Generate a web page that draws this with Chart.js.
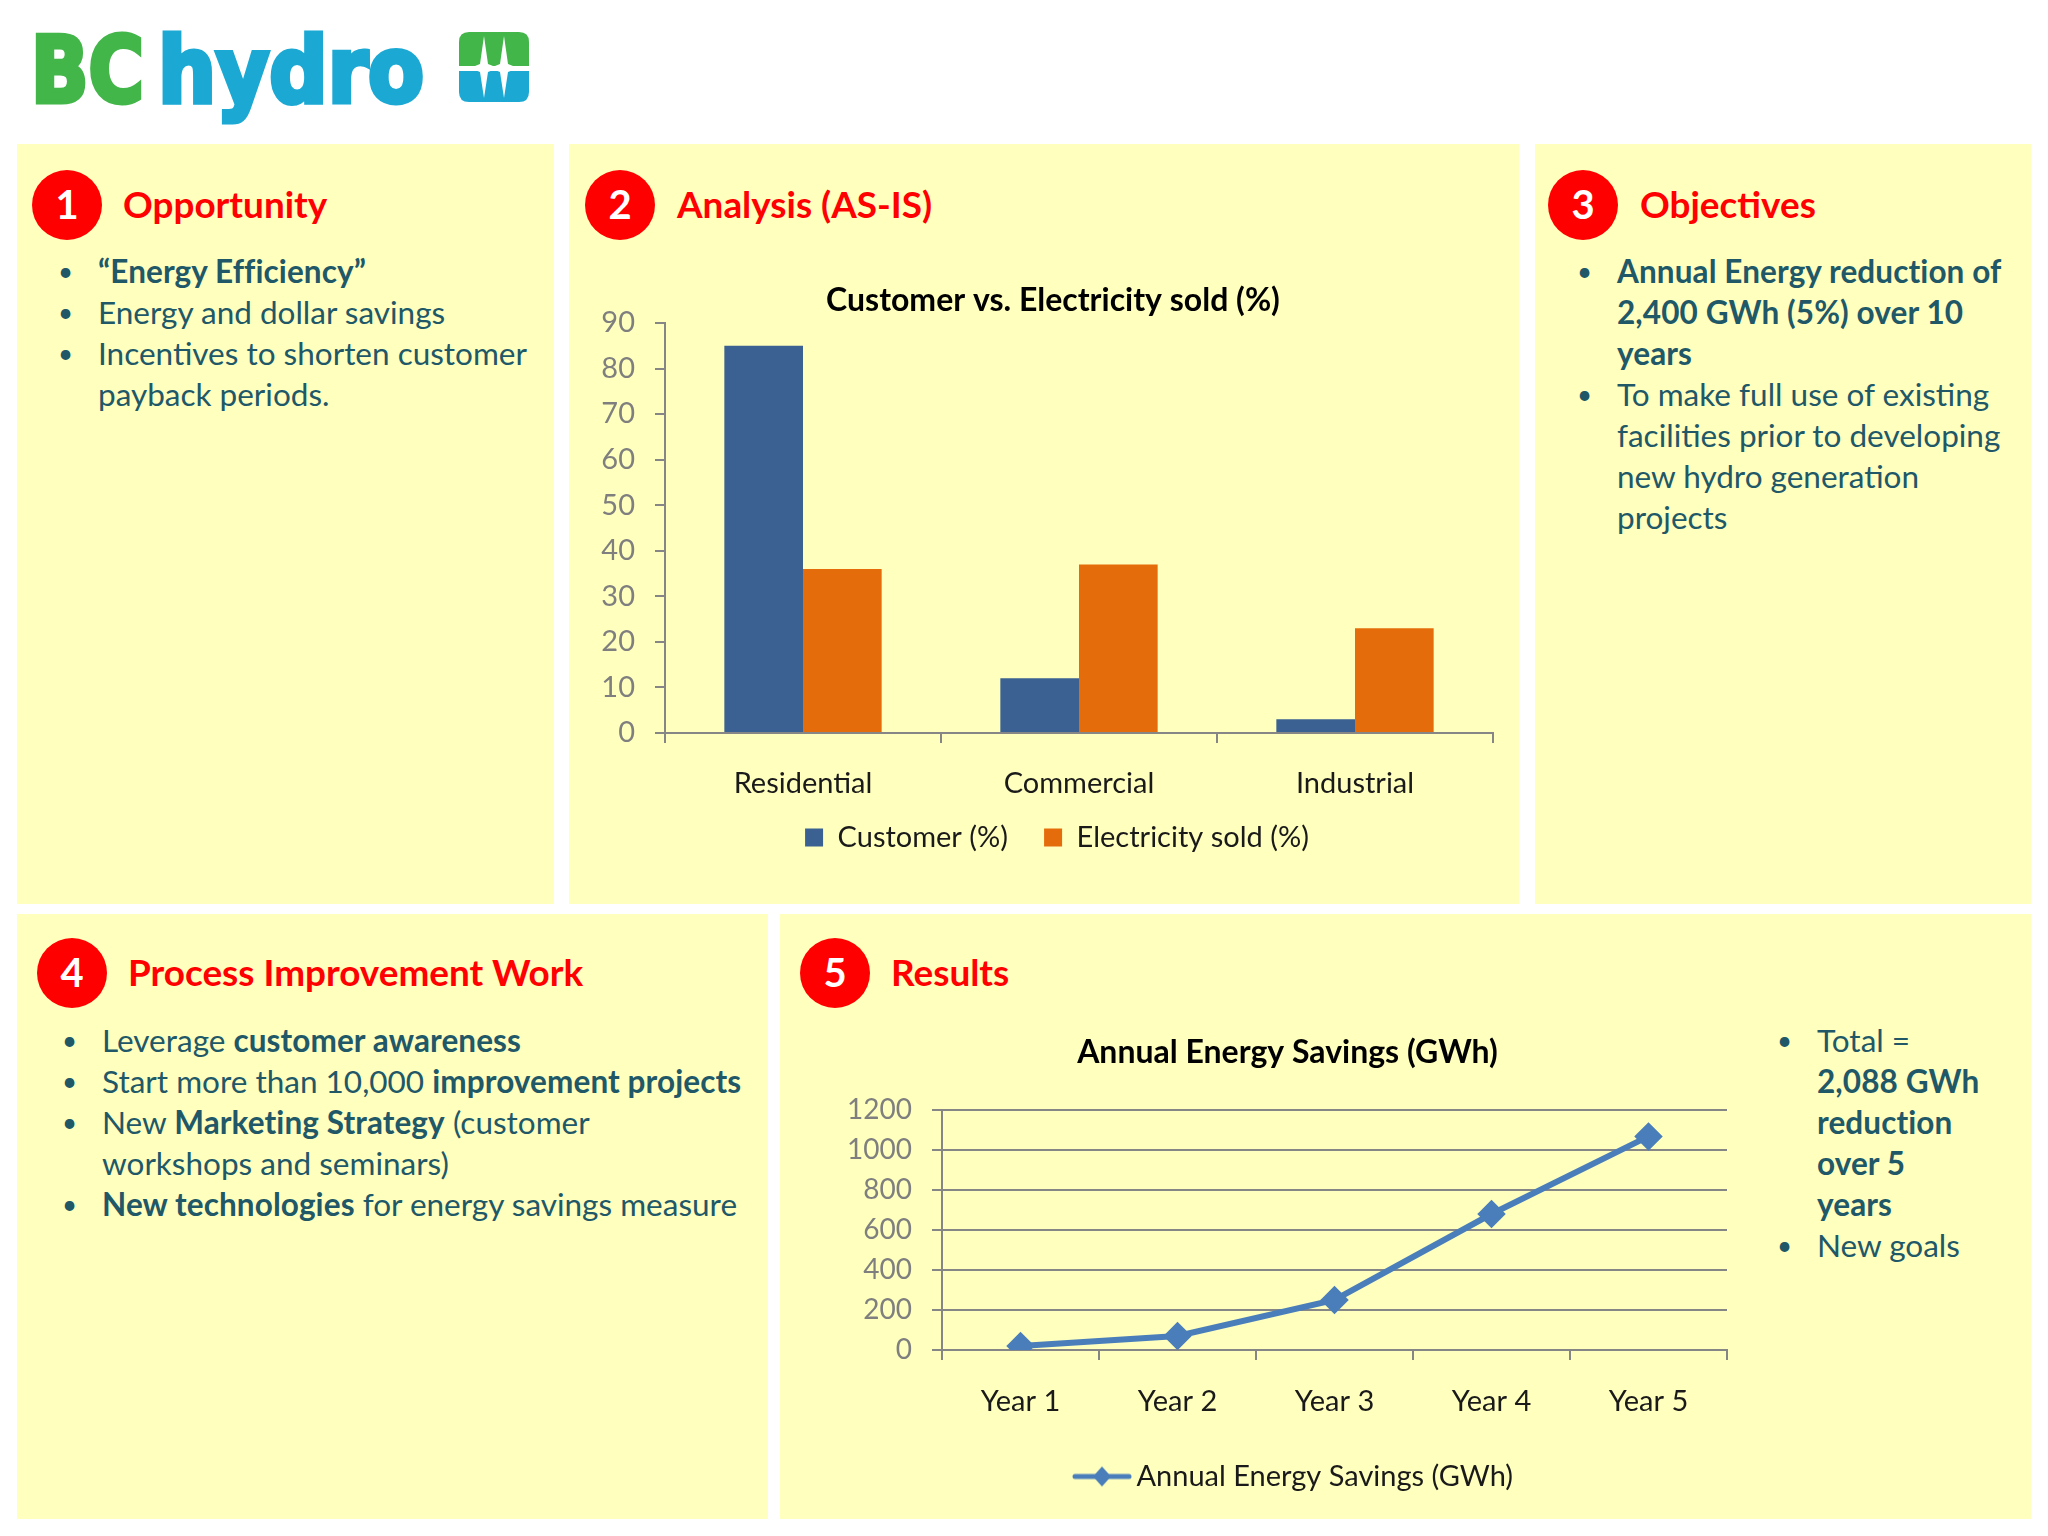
<!DOCTYPE html>
<html>
<head>
<meta charset="utf-8">
<title>BC Hydro</title>
<script src="https://cdn.jsdelivr.net/npm/chart.js@4/dist/chart.umd.min.js"></script>
<style>
  html, body { margin: 0; padding: 0; background: #fff; }
  body { width: 2048px; height: 1536px; position: relative; overflow: hidden; font-family: Lato, sans-serif; }
  .panel { position: absolute; background: #ffffbe; }
  .num { position: absolute; width: 70px; height: 70px; border-radius: 50%; background: #f00; color: #fff;
         font-weight: 700; font-size: 40px; line-height: 68px; text-align: center; }
  .head { position: absolute; color: #f00; font-weight: 700; font-size: 36.9px; line-height: 44px; white-space: nowrap; }
  ul { position: absolute; margin: 0; padding: 0; list-style: none; color: #215868; font-size: 31.5px; line-height: 41px; }
  li { position: relative; white-space: nowrap; }
  li::before { content: "•"; position: absolute; left: -40px; font-size: 26px; }
  b { letter-spacing: 0.1px; }
  canvas { position: absolute; }
</style>
</head>
<body>
<svg style="position:absolute;left:0;top:0" width="560" height="140">
  <text x="31" y="102" font-family="DejaVu Sans" font-weight="700" font-size="90" fill="#43b649" stroke="#43b649" stroke-width="5" textLength="113" lengthAdjust="spacingAndGlyphs">BC</text>
  <text x="158" y="102" font-family="DejaVu Sans" font-weight="700" font-size="90" fill="#1ba9d4" stroke="#1ba9d4" stroke-width="5" textLength="266" lengthAdjust="spacingAndGlyphs">hydro</text>
  <path d="M459 66V42q0-10 10-10h50q10 0 10 10v24z" fill="#43b649"/>
  <path d="M459 71v21q0 10 10 10h50q10 0 10-10V71z" fill="#1ba9d4"/>
  <path d="M484 36l4 28 10 4-10 4-4 26-4-26-10-4 10-4zM504 36l4 28 10 4-10 4-4 26-4-26-10-4 10-4z" fill="#fff"/>
</svg>

<div class="panel" style="left:17px;top:144px;width:537px;height:760px"></div>
<div class="panel" style="left:569px;top:144px;width:950px;height:760px"></div>
<div class="panel" style="left:1535px;top:144px;width:496px;height:760px"></div>
<div class="panel" style="left:17px;top:914px;width:751px;height:605px"></div>
<div class="panel" style="left:780px;top:914px;width:1251px;height:605px"></div>

<div class="num" style="left:32px;top:170px">1</div>
<div class="head" style="left:123px;top:182px">Opportunity</div>
<ul style="left:98px;top:251px">
  <li><b>“Energy Efficiency”</b></li>
  <li>Energy and dollar savings</li>
  <li>Incentives to shorten customer<br>payback periods.</li>
</ul>

<div class="num" style="left:585px;top:170px">2</div>
<div class="head" style="left:677px;top:182px">Analysis (AS-IS)</div>

<div class="num" style="left:1548px;top:170px">3</div>
<div class="head" style="left:1640px;top:182px">Objectives</div>
<ul style="left:1617px;top:251px">
  <li><b>Annual Energy reduction of<br>2,400 GWh (5%) over 10<br>years</b></li>
  <li>To make full use of existing<br>facilities prior to developing<br>new hydro generation<br>projects</li>
</ul>

<div class="num" style="left:37px;top:938px">4</div>
<div class="head" style="left:128px;top:950px">Process Improvement Work</div>
<ul style="left:102px;top:1020px">
  <li>Leverage <b>customer awareness</b></li>
  <li>Start more than 10,000 <b>improvement projects</b></li>
  <li>New <b>Marketing Strategy</b> (customer<br>workshops and seminars)</li>
  <li><b>New technologies</b> for energy savings measure</li>
</ul>

<div class="num" style="left:800px;top:938px">5</div>
<div class="head" style="left:891px;top:950px">Results</div>
<ul style="left:1817px;top:1020px">
  <li>Total =<br><b>2,088 GWh<br>reduction<br>over 5<br>years</b></li>
  <li>New goals</li>
</ul>

<canvas id="barChart" width="950" height="605" style="left:569px;top:270px"></canvas>
<canvas id="lineChart" width="980" height="481" style="left:780px;top:1020px"></canvas>

<script>
const sectors = ['Residential', 'Commercial', 'Industrial'];
const customerPct = [85, 12, 3];
const electricityPct = [36, 37, 23];

const years = ['Year 1', 'Year 2', 'Year 3', 'Year 4', 'Year 5'];
const savings = [20, 70, 250, 680, 1068];

const axisGrey = '#868686';
const tickGrey = '#7f7f7f';
const textDark = '#1a1a1a';
const lineBlue = '#4a7ebb';

Chart.defaults.font.family = 'Lato, sans-serif';
Chart.defaults.animation = false;

// moves title and legend after layout, the plot area stays where it is
function nudge(titleDx, legendDx, legendDy) {
  return {
    id: 'nudge',
    afterLayout(chart) {
      chart.titleBlock.left += titleDx;
      chart.titleBlock.right += titleDx;
      chart.legend.left += legendDx;
      chart.legend.right += legendDx;
      chart.legend.top += legendDy;
    }
  };
}

const ctx = document.getElementById('barChart');

new Chart(ctx, {
  type: 'bar',
  plugins: [nudge(22, 26, -13)],
  data: {
    labels: sectors,
    datasets: [
      { label: 'Customer (%)', data: customerPct, backgroundColor: '#3a6191' },
      { label: 'Electricity sold (%)', data: electricityPct, backgroundColor: '#e46c0a' }
    ]
  },
  options: {
    responsive: false,
    barPercentage: 1,
    categoryPercentage: 0.57,
    layout: { padding: { right: 26 } },
    plugins: {
      title: {
        display: true,
        text: 'Customer vs. Electricity sold (%)',
        color: '#000',
        font: { size: 32, weight: '700' },
        padding: { top: 11, bottom: 3.6 }
      },
      legend: {
        position: 'bottom',
        labels: { color: textDark, font: { size: 29 }, boxWidth: 18, boxHeight: 18, padding: 36 }
      },
      tooltip: { enabled: false }
    },
    scales: {
      x: {
        afterFit: (s) => { s.height = 67; },
        border: { color: axisGrey, width: 2 },
        grid: { drawOnChartArea: false, color: axisGrey, lineWidth: 2, tickLength: 10 },
        ticks: { color: textDark, font: { size: 29 }, padding: 23, maxRotation: 0 }
      },
      y: {
        min: 0,
        max: 90,
        afterFit: (s) => { s.width = 96; },
        border: { color: axisGrey, width: 2 },
        grid: { drawOnChartArea: false, color: axisGrey, lineWidth: 2, tickLength: 10 },
        ticks: { color: tickGrey, font: { size: 29 }, stepSize: 10, padding: 20 }
      }
    }
  }
});

// legend key for the line chart: short line with the diamond on it
// (left side of the canvas is blank so the key sits close to its text)
function lineKey() {
  const c = document.createElement('canvas');
  c.width = 80;
  c.height = 24;
  const g = c.getContext('2d');
  g.strokeStyle = lineBlue;
  g.fillStyle = lineBlue;
  g.lineWidth = 5;
  g.lineCap = 'round';
  g.beginPath();
  g.moveTo(23, 12);
  g.lineTo(77, 12);
  g.stroke();
  g.beginPath();
  g.moveTo(50, 2);
  g.lineTo(59, 12);
  g.lineTo(50, 22);
  g.lineTo(41, 12);
  g.closePath();
  g.fill();
  return c;
}

const ctx_1 = document.getElementById('lineChart');
const key = lineKey();

new Chart(ctx_1, {
  type: 'line',
  plugins: [nudge(34, 34, 0)],
  data: {
    labels: years,
    datasets: [{
      label: 'Annual Energy Savings (GWh)',
      data: savings,
      borderColor: lineBlue,
      backgroundColor: lineBlue,
      borderWidth: 6,
      tension: 0,
      pointStyle: 'rectRot',
      pointRadius: 10,
      pointBackgroundColor: lineBlue,
      pointBorderColor: lineBlue
    }]
  },
  options: {
    responsive: false,
    layout: { padding: { right: 33 } },
    plugins: {
      title: {
        display: true,
        text: 'Annual Energy Savings (GWh)',
        color: '#000',
        font: { size: 32, weight: '700' },
        padding: { top: 13, bottom: 38.6 }
      },
      legend: {
        position: 'bottom',
        labels: {
          color: textDark,
          font: { size: 29 },
          usePointStyle: true,
          pointStyleWidth: 60,
          boxHeight: 24,
          padding: 10,
          generateLabels: (chart) => {
            const items = Chart.defaults.plugins.legend.labels.generateLabels(chart);
            items.forEach((it) => { it.pointStyle = key; });
            return items;
          }
        }
      },
      tooltip: { enabled: false }
    },
    scales: {
      x: {
        offset: true,
        afterFit: (s) => { s.height = 102; },
        border: { color: axisGrey, width: 2 },
        grid: { offset: true, drawOnChartArea: false, color: axisGrey, lineWidth: 2, tickLength: 10 },
        ticks: { color: textDark, font: { size: 29 }, padding: 24, maxRotation: 0 }
      },
      y: {
        min: 0,
        max: 1200,
        afterFit: (s) => { s.width = 162; },
        border: { color: axisGrey, width: 2 },
        grid: { color: axisGrey, lineWidth: 2, tickLength: 10 },
        ticks: { color: tickGrey, font: { size: 28 }, stepSize: 200, padding: 20, callback: (v) => String(v) }
      }
    }
  }
});
</script>
</body>
</html>
